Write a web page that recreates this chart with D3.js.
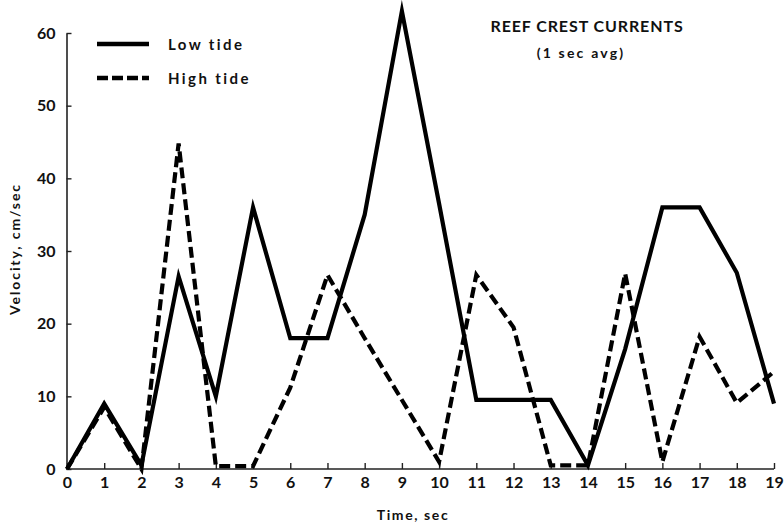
<!DOCTYPE html>
<html>
<head>
<meta charset="utf-8">
<script src="https://cdn.jsdelivr.net/npm/d3@7"></script>
<style>
  html, body { margin: 0; padding: 0; background: #fff; }
  svg { display: block; }
  text { font-family: Lato, "DejaVu Sans", sans-serif; font-weight: 700; fill: #111; }
</style>
</head>
<body>
<svg id="chart" width="784" height="524"></svg>
<script>
// Time in seconds (1 sec averages)
const seconds = [0,1,2,3,4,5,6,7,8,9,10,11,12,13,14,15,16,17,18,19];
// Reef crest current velocity, cm/sec
const lowTide  = [0, 9, 0.5, 26.5, 10, 36, 18, 18, 35, 63, 36.5, 9.5, 9.5, 9.5, 0.5, 16.5, 36, 36, 27, 9];
const highTide = [0, 8.5, 0, 44.8, 0.4, 0.4, 11.2, 26.7, 18, 9.5, 1, 26.7, 19.5, 0.5, 0.5, 26.9, 1, 18.2, 9.1, 13.4];
const xTicks = [0,1,2,3,4,5,6,7,8,9,10,11,12,13,14,15,16,17,18,19];
const yTicks = [0,10,20,30,40,50,60];
const seriesNames = ["Low tide", "High tide"];
const titleLines = ["REEF CREST CURRENTS", "(1 sec avg)"];
const xTitle = "Time, sec";
const yTitle = "Velocity, cm/sec";

const svg = d3.select("#chart");
const x = d3.scaleLinear().domain([0, 19]).range([67, 774]);
const y = d3.scaleLinear().domain([0, 60]).range([469, 33]);

// x axis, ticks pointing into the plot
const gx = svg.append("g")
  .attr("transform", `translate(0,${y(0)})`)
  .call(d3.axisBottom(x).tickValues(xTicks).tickSizeInner(-6).tickSizeOuter(0).tickPadding(8).tickFormat(d3.format("d")));
gx.select(".domain").attr("stroke", "#222").attr("stroke-width", 1.6).attr("d", `M${x(0) - 1},0H${x(19)}`);
gx.selectAll(".tick line").attr("stroke", "#222").attr("stroke-width", 1.4);
gx.selectAll(".tick text").style("font-size", "16px").attr("fill", "#111");

// y axis, ticks pointing into the plot
const gy = svg.append("g")
  .attr("transform", `translate(${x(0) - 0.5},0)`)
  .call(d3.axisLeft(y).tickValues(yTicks).tickSizeInner(-5).tickSizeOuter(0).tickPadding(11).tickFormat(d3.format("d")));
gy.select(".domain").attr("stroke", "#222").attr("stroke-width", 1.6);
gy.selectAll(".tick line").attr("stroke", "#222").attr("stroke-width", 1.4);
gy.selectAll(".tick text").style("font-size", "16px").attr("fill", "#111");

// series lines
const line = d3.line().x((d, i) => x(seconds[i])).y(d => y(d));
svg.append("path")
  .datum(lowTide)
  .attr("d", line)
  .attr("fill", "none").attr("stroke", "#000").attr("stroke-width", 4.2)
  .attr("stroke-linejoin", "miter").attr("stroke-miterlimit", 8);
svg.append("path")
  .datum(highTide)
  .attr("d", line)
  .attr("fill", "none").attr("stroke", "#000").attr("stroke-width", 4.2)
  .attr("stroke-dasharray", "11,5")
  .attr("stroke-linejoin", "miter").attr("stroke-miterlimit", 8);

// legend
const legend = svg.append("g");
[[44, null], [78, "11,4"]].forEach(([ly, dash], i) => {
  legend.append("line")
    .attr("x1", 97).attr("x2", 149).attr("y1", ly).attr("y2", ly)
    .attr("stroke", "#000").attr("stroke-width", 4.5)
    .attr("stroke-dasharray", dash);
  legend.append("text")
    .attr("x", 168).attr("y", ly + 6)
    .style("font-size", "15px").style("letter-spacing", "2.4px")
    .text(seriesNames[i]);
});

// title
svg.append("text")
  .attr("x", 587).attr("y", 32).attr("text-anchor", "middle")
  .style("font-size", "16px").style("letter-spacing", "0.9px")
  .text(titleLines[0]);
svg.append("text")
  .attr("x", 581).attr("y", 58).attr("text-anchor", "middle")
  .style("font-size", "14px").style("letter-spacing", "2.2px")
  .text(titleLines[1]);

// axis titles
svg.append("text")
  .attr("x", 413).attr("y", 520).attr("text-anchor", "middle")
  .style("font-size", "14px").style("letter-spacing", "1.6px")
  .text(xTitle);
svg.append("text")
  .attr("transform", "translate(20,249) rotate(-90)")
  .attr("text-anchor", "middle")
  .style("font-size", "14px").style("letter-spacing", "1.9px")
  .text(yTitle);
</script>
</body>
</html>
